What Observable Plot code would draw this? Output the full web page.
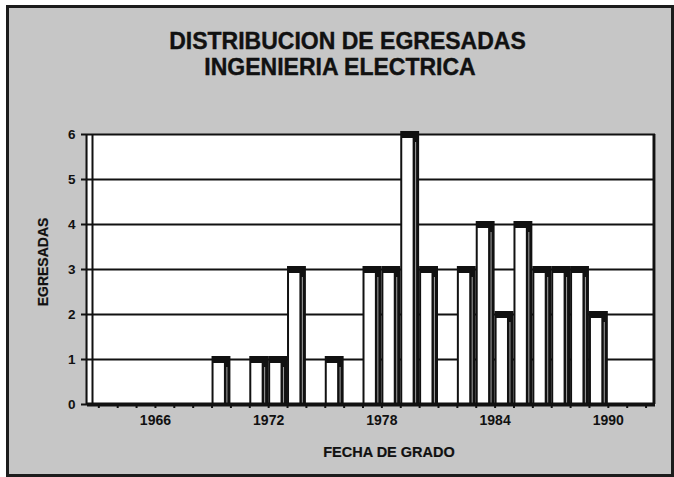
<!DOCTYPE html>
<html><head><meta charset="utf-8">
<script src="https://cdn.jsdelivr.net/npm/d3@7"></script>
<script src="https://cdn.jsdelivr.net/npm/@observablehq/plot@0.6"></script>
<style>
html,body{margin:0;padding:0;background:#fff;}
#page{position:relative;width:674px;height:477px;overflow:hidden;background:#fff;font-family:"Liberation Sans",Arial,sans-serif;font-weight:bold;color:#111;}
#panel{position:absolute;left:6px;top:5px;width:668px;height:472px;box-sizing:border-box;border:3px solid #1c1c1c;background:#c6c6c6;}
.t{position:absolute;white-space:nowrap;line-height:1;transform:translateX(-50%);-webkit-text-stroke:0.4px #111;}
#chart{position:absolute;left:0;top:0;}
</style></head><body>
<div id="page">
<div id="panel"></div>
<div class="t" style="left:347.5px;top:29.8px;font-size:23px">DISTRIBUCION DE EGRESADAS</div>
<div class="t" style="left:340px;top:55.5px;font-size:23px">INGENIERIA ELECTRICA</div>
<div class="t" style="left:389px;top:444.7px;font-size:14.5px;-webkit-text-stroke:0.2px #111">FECHA DE GRADO</div>
<div class="t" style="left:42.5px;top:262px;font-size:14px;-webkit-text-stroke:0.2px #111;transform:translate(-50%,-50%) rotate(-90deg)">EGRESADAS</div>
<div id="chart"></div>
</div>
<script>
const years = [1969, 1971, 1972, 1973, 1975, 1977, 1978, 1979, 1980, 1982, 1983, 1984, 1985, 1986, 1987, 1988, 1989];
const egresadas = [1, 1, 1, 3, 1, 3, 3, 6, 3, 3, 4, 2, 4, 3, 3, 3, 2];
const tickYears = [1966, 1972, 1978, 1984, 1990];
const yTicks = [0, 1, 2, 3, 4, 5, 6];
const gridValues = [1, 2, 3, 4, 5, 6];

const data = years.map((y, i) => ({year: y, n: egresadas[i]}));
const x0 = 1962.4, x1 = 1992.5;
const ink = "#111";

const chart = Plot.plot({
  width: 674, height: 477,
  marginLeft: 87, marginRight: 19, marginTop: 134, marginBottom: 73,
  style: {background: "transparent", fontFamily: "'Liberation Sans', Arial, sans-serif", fontWeight: "bold", color: ink, overflow: "visible"},
  x: {domain: [x0, x1]},
  y: {domain: [0, 6]},
  marks: [
    Plot.frame({fill: "white", stroke: null}),
    Plot.ruleY(gridValues, {stroke: ink, strokeWidth: 2}),
    Plot.rect(data, {x1: "year", x2: d => d.year + 1, y1: 0, y2: "n", fill: ink, insetTop: -3}),
    Plot.rect(data, {x1: "year", x2: d => d.year + 1, y1: 0, y2: "n", fill: "white", insetLeft: 2, insetRight: 6.5, insetTop: 4}),
    Plot.rect(data, {x1: "year", x2: d => d.year + 1, y1: 0, y2: "n", fill: "#999", insetLeft: 14.8, insetRight: 3, insetTop: 8}),
    Plot.ruleY([0], {stroke: ink, strokeWidth: 4}),
    Plot.ruleX([x0], {stroke: ink, strokeWidth: 2, dx: -1}),
    Plot.ruleX([x0], {stroke: ink, strokeWidth: 2, dx: 5}),
    Plot.ruleX([x1], {stroke: ink, strokeWidth: 3, dx: -1.5}),
    Plot.axisY({ticks: yTicks, tickSize: 6, tickPadding: 6, fontSize: 13.5, tickFormat: d => String(d), label: null, strokeWidth: 2}),
    Plot.axisX({ticks: d3.range(1963, 1993), tickSize: 4, tickFormat: () => "", label: null, strokeWidth: 2}),
    Plot.axisX({ticks: tickYears, tickSize: 0, tickPadding: 11, tickFormat: d => String(d), fontSize: 14, label: null})
  ]
});
document.getElementById("chart").appendChild(chart);
</script>
</body></html>
